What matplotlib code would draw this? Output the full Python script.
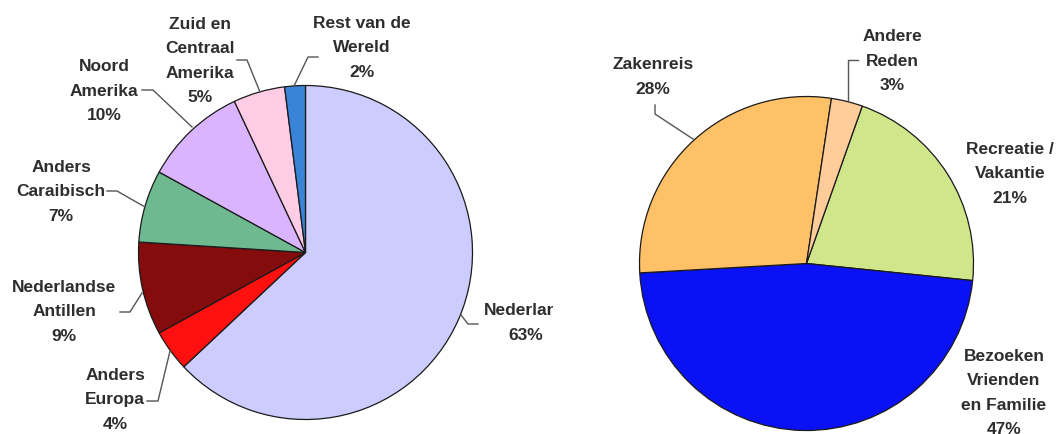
import matplotlib
matplotlib.use("Agg")
import matplotlib.pyplot as plt

# ---- data ----
left_labels = ["Nederland", "Anders\nEuropa", "Nederlandse\nAntillen", "Anders\nCaraibisch",
               "Noord\nAmerika", "Zuid en\nCentraal\nAmerika", "Rest van de\nWereld"]
left_values = [63, 4, 9, 7, 10, 5, 2]
left_colors = ["#CCCCFF", "#FF1010", "#840C0C", "#6FB990", "#DAB4FF", "#FFCCE6", "#3A84D8"]

right_labels = ["Recreatie /\nVakantie", "Bezoeken\nVrienden\nen Familie", "Zakenreis", "Andere\nReden"]
right_values = [21, 47, 28, 3]
right_colors = ["#CFE68A", "#0A12F5", "#FFC168", "#FFCC9A"]

W, H = 1056, 435
fig = plt.figure(figsize=(W / 100, H / 100), dpi=100)
fig.patch.set_facecolor("white")

SPLIT = 553
axL = fig.add_axes([0, 0, SPLIT / W, 1])
axR = fig.add_axes([SPLIT / W, 0, (W - SPLIT) / W, 1])

def Y(y):
    return H - y

wp = dict(edgecolor="#1a1a1a", linewidth=0.9)
axL.pie(left_values, colors=left_colors, startangle=90, counterclock=False,
        center=(305.5, Y(253.5)), radius=167, wedgeprops=wp, frame=True)
axR.pie(right_values, colors=right_colors, startangle=70.5, counterclock=False,
        center=(806.5, Y(264.5)), radius=167, wedgeprops=wp, frame=True)
for a, (x0, x1) in ((axL, (0, SPLIT)), (axR, (SPLIT, W))):
    a.set_xlim(x0, x1); a.set_ylim(0, H)
    a.set_aspect("equal")
    a.axis("off")

tstyle = dict(fontsize=12.5, fontweight="bold", color="#2e2e2e", ha="center", va="center",
              family="Liberation Sans", linespacing=1.78)

# label layout (x, y center in pixel coords from top)
left_pos = [(526, 323), (115, 400), (64, 312), (61, 192), (104, 91), (200, 61), (362, 48)]
right_pos = [(1010, 174), (1004, 393), (653, 77), (892, 61)]

for lab, v, (x, y) in zip(left_labels, left_values, left_pos):
    axL.text(x, Y(y), f"{lab}\n{v}%", clip_on=True, **tstyle)
for lab, v, (x, y) in zip(right_labels, right_values, right_pos):
    axR.text(x, Y(y), f"{lab}\n{v}%", clip_on=False, **tstyle)

# leader lines
lc = dict(color="#555555", linewidth=1.0)
left_leaders = [
    [(478, 325), (468, 325), (461, 316)],
    [(147, 402), (158, 402), (170, 352)],
    [(120, 313), (130, 313), (142, 294)],
    [(107, 192), (117, 192), (145, 208)],
    [(142, 91), (153, 91), (192, 128)],
    [(237, 61), (247, 61), (260, 93)],
    [(318, 58), (308, 58), (294, 87)],
]
right_leaders = [
    [(655, 106), (655, 115), (693, 140)],
    [(858, 61), (848, 61), (848, 102)],
]
for pts in left_leaders:
    axL.plot([p[0] for p in pts], [Y(p[1]) for p in pts], **lc)
for pts in right_leaders:
    axR.plot([p[0] for p in pts], [Y(p[1]) for p in pts], **lc)

fig.savefig("out.png", dpi=100, facecolor="white")
